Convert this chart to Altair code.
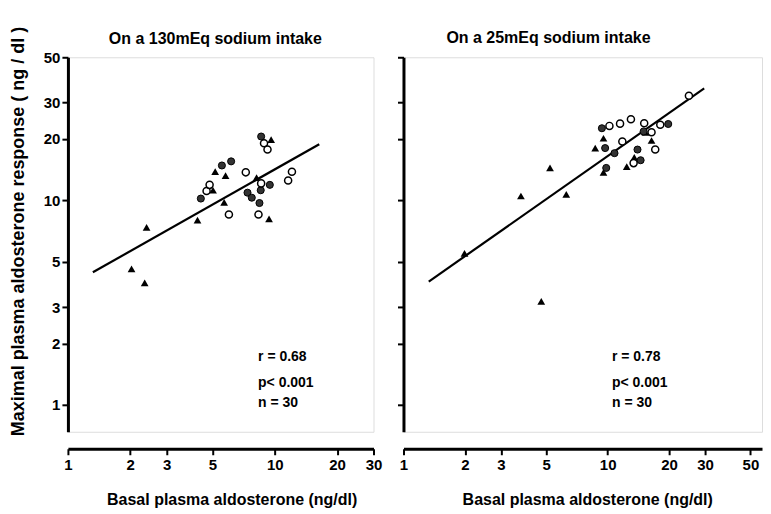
import altair as alt
import pandas as pd

# ---- Left panel: 130 mEq sodium intake ----
L_tri_x = [2.40, 2.03, 2.35, 4.23, 5.03, 5.15, 5.78, 5.69, 8.16, 9.60, 9.38]
L_tri_y = [7.38, 4.62, 3.95, 8.01, 11.2, 13.8, 13.2, 9.78, 12.9, 19.8, 8.11]
L_fil_x = [4.39, 5.55, 6.15, 7.38, 7.74, 8.43, 8.55, 9.46, 8.59]
L_fil_y = [10.2, 14.8, 15.5, 10.9, 10.3, 9.70, 11.2, 11.9, 20.5]
L_opn_x = [4.68, 4.84, 6.00, 7.24, 8.34, 8.59, 8.87, 9.22, 11.6, 12.1]
L_opn_y = [11.1, 11.9, 8.52, 13.7, 8.52, 12.1, 19.0, 17.7, 12.5, 13.8]
L_fit_x = [1.32, 16.4]
L_fit_y = [4.45, 18.8]
L_stats = ["r = 0.68", "p< 0.001", "n = 30"]
L_stats_x = [8.3, 8.3, 8.3]
L_stats_y = [1.71, 1.28, 1.02]

# ---- Right panel: 25 mEq sodium intake ----
R_tri_x = [1.99, 3.76, 5.22, 6.27, 4.73, 9.54, 8.69, 15.3, 16.4, 13.5, 12.4, 9.54]
R_tri_y = [5.51, 10.5, 14.4, 10.7, 3.21, 20.1, 18.0, 21.5, 19.6, 16.2, 14.6, 13.7]
R_fil_x = [9.37, 15.0, 19.8, 9.72, 10.8, 14.0, 14.5, 9.84]
R_fil_y = [22.5, 21.7, 23.6, 18.0, 17.0, 17.7, 15.7, 14.4]
R_opn_x = [10.2, 11.5, 13.0, 15.1, 16.4, 18.1, 11.8, 17.1, 13.4, 25.0]
R_opn_y = [23.1, 23.7, 24.9, 23.8, 21.5, 23.4, 19.4, 17.7, 15.2, 32.4]
R_fit_x = [1.33, 29.7]
R_fit_y = [4.01, 35.2]
R_stats = ["r = 0.78", "p< 0.001", "n = 30"]
R_stats_x = [10.5, 10.5, 10.5]
R_stats_y = [1.71, 1.28, 1.02]

Y_TICKS = [1, 2, 3, 5, 10, 20, 30, 50]
L_X_TICKS = [1, 2, 3, 5, 10, 20, 30]
R_X_TICKS = [1, 2, 3, 5, 10, 20, 30, 50]

TITLE_L = "On a 130mEq sodium intake"
TITLE_R = "On a 25mEq sodium intake"
Y_TITLE = "Maximal plasma aldosterone response ( ng / dl )"
X_TITLE = "Basal plasma aldosterone  (ng/dl)"

FONT = "Liberation Sans"


def panel(tri_x, tri_y, fil_x, fil_y, opn_x, opn_y, fit_x, fit_y,
          stats, sx, sy, xmax, xticks, title, title_dx, title_off, width,
          xtitle_x, first):
    tri = pd.DataFrame({"x": tri_x, "y": tri_y})
    fil = pd.DataFrame({"x": fil_x, "y": fil_y})
    opn = pd.DataFrame({"x": opn_x, "y": opn_y})
    fit = pd.DataFrame({"x": fit_x, "y": fit_y})
    st = pd.DataFrame({"x": sx, "y": sy, "t": stats})

    xs = alt.Scale(type="log", domain=[1, xmax], nice=False)
    ys = alt.Scale(type="log", domain=[0.74, 50], nice=False)

    xaxis = alt.Axis(values=xticks, format="d", title=X_TITLE, offset=17,
                     grid=False, domainWidth=3, domainColor="black",
                     tickWidth=2, tickSize=6, tickColor="black",
                     labelFont=FONT, labelFontSize=15, labelFontWeight="bold",
                     labelColor="black", labelPadding=3,
                     titleFont=FONT, titleFontSize=16, titleFontWeight="bold",
                     titleColor="black", titlePadding=19, titleX=xtitle_x,
                     labelFlush=False)
    yaxis = alt.Axis(values=Y_TICKS, format="d", title=None, labels=first,
                     grid=False, domainWidth=3, domainColor="black",
                     tickWidth=2, tickSize=6, tickColor="black",
                     labelFont=FONT, labelFontSize=15, labelFontWeight="bold",
                     labelColor="black", labelPadding=2)

    base_x = alt.X("x:Q", scale=xs, axis=xaxis)
    base_y = alt.Y("y:Q", scale=ys, axis=yaxis)

    line = alt.Chart(fit).mark_line(color="black", strokeWidth=2.2).encode(
        x=base_x, y=base_y)
    t = alt.Chart(tri).mark_point(shape="triangle-up", filled=True,
                                  color="black", size=60, opacity=1).encode(
        x="x:Q", y="y:Q")
    f = alt.Chart(fil).mark_point(shape="circle", filled=True, fill="#333333",
                                  stroke="black", strokeWidth=1, size=50,
                                  opacity=1).encode(x="x:Q", y="y:Q")
    o = alt.Chart(opn).mark_point(shape="circle", filled=False, fill="white",
                                  stroke="black", strokeWidth=1.5, size=50,
                                  opacity=1).encode(x="x:Q", y="y:Q")
    txt = alt.Chart(st).mark_text(align="left", baseline="middle", font=FONT,
                                  fontSize=14, fontWeight="bold",
                                  color="black").encode(
        x="x:Q", y="y:Q", text="t:N")

    return alt.layer(line, t, f, o, txt).properties(
        width=width, height=375,
        title=alt.TitleParams(title, anchor="start", frame="group", dx=title_dx,
                              offset=title_off, font=FONT, fontSize=16,
                              fontWeight="bold", color="black"))


left = panel(L_tri_x, L_tri_y, L_fil_x, L_fil_y, L_opn_x, L_opn_y,
             L_fit_x, L_fit_y, L_stats, L_stats_x, L_stats_y,
             30, L_X_TICKS, TITLE_L, 41, 3, 306, 164, True)
right = panel(R_tri_x, R_tri_y, R_fil_x, R_fil_y, R_opn_x, R_opn_y,
              R_fit_x, R_fit_y, R_stats, R_stats_x, R_stats_y,
              57, R_X_TICKS, TITLE_R, 43, 10.5, 359, 184, False)

chart = alt.hconcat(left, right, spacing=13).properties(
    title=alt.TitleParams(Y_TITLE, orient="left", anchor="start", offset=15,
                          dx=72, font=FONT, fontSize=18, fontWeight="bold",
                          color="black"),
    padding={"left": 1, "top": 18, "right": 0, "bottom": 0}
).configure_view(stroke=None).configure(background="white")

chart.save("out.html", embed_options={"renderer": "svg", "actions": False})
